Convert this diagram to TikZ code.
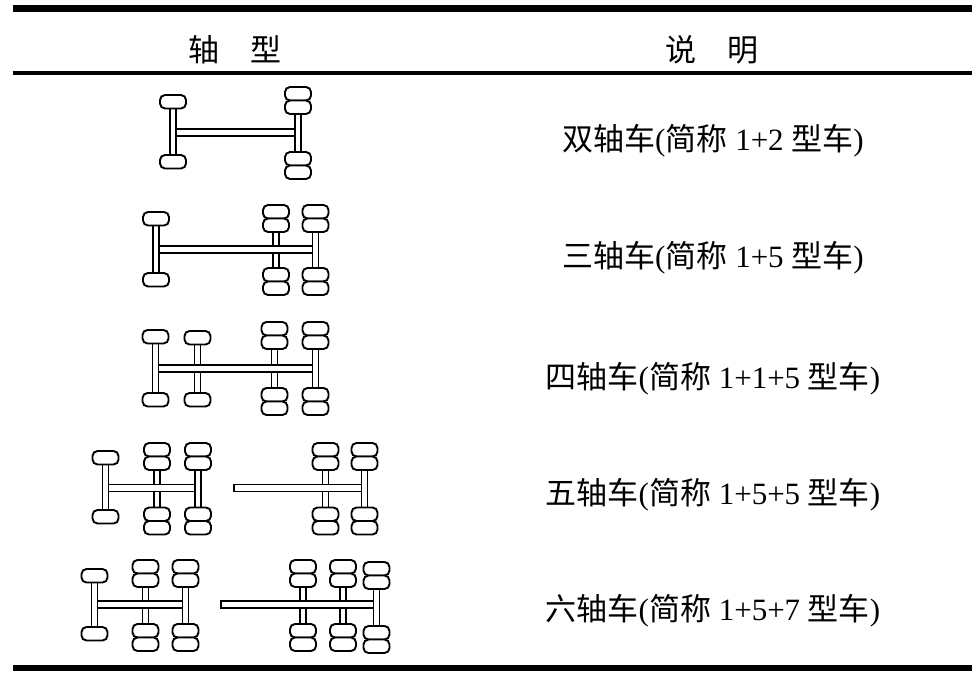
\documentclass[tikz,border=0pt]{standalone}
\usepackage{fontspec}
\setmainfont{Liberation Serif}
\newfontfamily\cjk{Noto Sans CJK SC}
\tikzset{
  tire/.style={draw=black,fill=white,line width=1.9pt,rounded corners=5pt},
  axlebar/.style={draw=black,fill=white,line width=1.7pt},
  rulethick/.style={line width=6.5pt},
  rulethin/.style={line width=3.5pt},
  rowtext/.style={font=\fontsize{31pt}{36pt}\selectfont,inner sep=0pt,anchor=center},
}
% steer unit: single tires
\newcommand\Steer[3]{%
  \draw[axlebar] ({#1-3},{#2+13}) rectangle ({#1+3},{#3+0.5});
  \draw[tire] ({#1-13},{#2}) rectangle ({#1+13},{#2+13.5});
  \draw[tire] ({#1-13},{#3}) rectangle ({#1+13},{#3+13.5});
}
% drive unit: dual tires
\newcommand\Dual[3]{%
  \draw[axlebar] ({#1-3},{#2+26.5}) rectangle ({#1+3},{#3+0.5});
  \draw[tire] ({#1-13},{#2}) rectangle ({#1+13},{#2+13.5});
  \draw[tire] ({#1-13},{#2+13.5}) rectangle ({#1+13},{#2+27});
  \draw[tire] ({#1-13},{#3}) rectangle ({#1+13},{#3+13.5});
  \draw[tire] ({#1-13},{#3+13.5}) rectangle ({#1+13},{#3+27});
}
\newcommand\Shaft[3]{%
  \draw[axlebar] ({#1},{#3-3.5}) rectangle ({#2},{#3+3.5});
}
\begin{document}
\begin{tikzpicture}[x=1pt,y=-1pt]
\useasboundingbox (0,0) rectangle (977,680);
% rules
\coordinate (tl) at (13,8.3); \coordinate (tr) at (972,8.3);
\coordinate (hl) at (13,72.8); \coordinate (hr) at (972,72.8);
\coordinate (bl) at (13,668); \coordinate (br) at (972,668);
\draw[rulethick] (tl) -- (tr);
\draw[rulethin] (hl) -- (hr);
\draw[rulethick] (bl) -- (br);
% header
\node[rowtext] (h1) at (235,50) {\cjk 轴\hspace{1em}型};
\node[rowtext] (h2) at (712,50) {\cjk 说\hspace{1em}明};
% row 1
\Shaft{175}{297}{132.5}
\Steer{173}{95}{155}
\Dual{298}{87}{152}
\node[rowtext] (t1) at (713,141) {{\cjk 双轴车}({\cjk 简称} 1+2 {\cjk 型车})};
% row 2
\Dual{276}{205}{268}
\Shaft{156}{315}{249.5}
\Steer{156}{212}{273}
\Dual{315.5}{205}{268}
\node[rowtext] (t2) at (713,258) {{\cjk 三轴车}({\cjk 简称} 1+5 {\cjk 型车})};
% row 3
\Steer{197.5}{331}{393}
\Dual{274.5}{322}{388}
\Shaft{156}{315}{368.5}
\Steer{155.5}{330}{393}
\Dual{315.5}{322}{388}
\node[rowtext] (t3) at (713,379) {{\cjk 四轴车}({\cjk 简称} 1+1+5 {\cjk 型车})};
% row 4 tractor
\Dual{157}{443}{507.5}
\Shaft{106}{198}{488}
\Steer{105.5}{451}{510}
\Dual{198}{443}{507.5}
% row 4 trailer
\Dual{325.5}{443}{507.5}
\Shaft{234}{364}{488}
\Dual{364.5}{443}{507.5}
\node[rowtext] (t4) at (713,495) {{\cjk 五轴车}({\cjk 简称} 1+5+5 {\cjk 型车})};
% row 5 tractor
\Dual{145.5}{560}{624}
\Shaft{95}{185}{604.5}
\Steer{94.5}{569}{627}
\Dual{185.5}{560}{624}
% row 5 trailer
\Dual{303}{560}{624}
\Dual{343}{560}{624}
\Shaft{221}{376}{604.5}
\Dual{376.5}{562}{626}
\node[rowtext] (t5) at (713,611) {{\cjk 六轴车}({\cjk 简称} 1+5+7 {\cjk 型车})};
\end{tikzpicture}
\end{document}
